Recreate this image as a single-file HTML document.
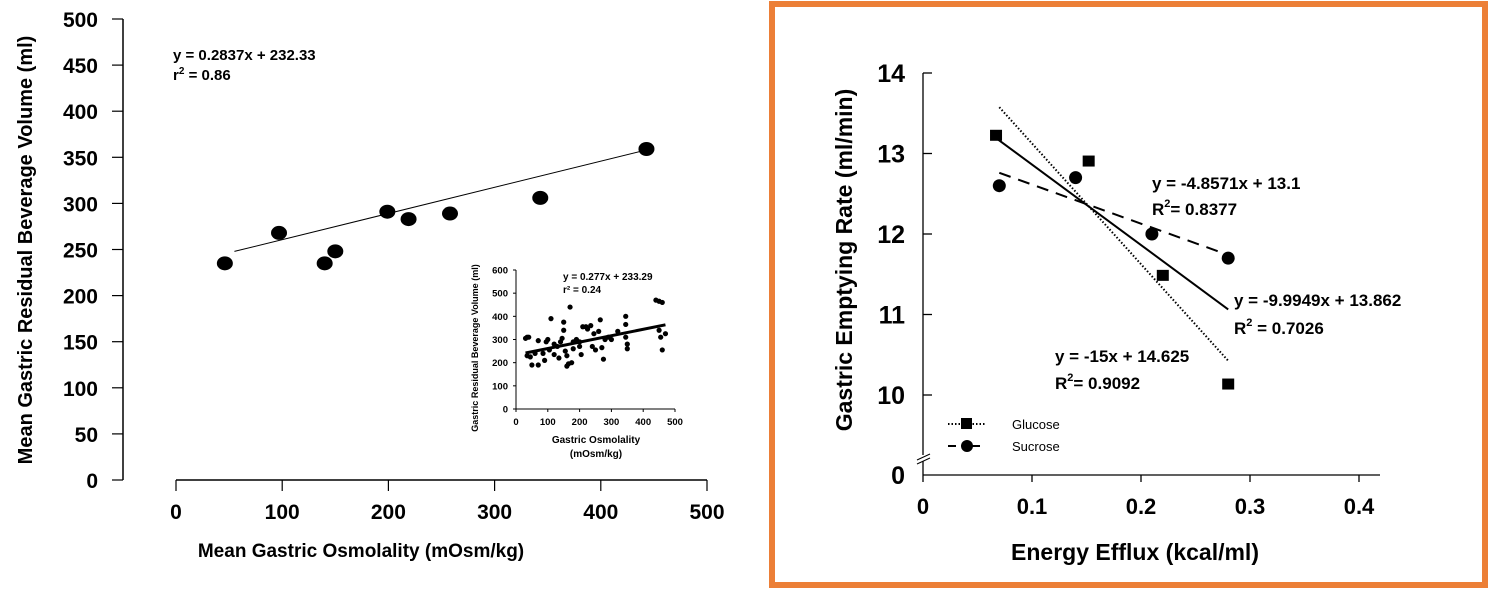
<!DOCTYPE html>
<html><head><meta charset="utf-8"><style>
html,body{margin:0;padding:0;background:#fff;}
svg{display:block;font-family:"Liberation Sans",Arial,sans-serif;}
text{font-weight:bold;fill:#000;}
</style></head><body>
<svg id="s" width="1490" height="590" viewBox="0 0 1490 590">
</svg>
<script>
const NS="http://www.w3.org/2000/svg";
const svg=document.getElementById('s');
function el(tag,attrs,parent){const e=document.createElementNS(NS,tag);for(const k in attrs)e.setAttribute(k,attrs[k]);(parent||svg).appendChild(e);return e;}
function txt(x,y,s,size,anchor,parent){const t=el('text',{x:x,y:y,'font-size':size,'text-anchor':anchor||'start'},parent);t.textContent=s;return t;}

// ---------- Left chart data ----------
const leftX=[46,97,140,150,199,219,258,343,443];
const leftY=[235,268,235,248,291,283,289,306,359];
const leftTicksY=[0,50,100,150,200,250,300,350,400,450,500];
const leftTicksX=[0,100,200,300,400,500];
const leftSlope=0.2837, leftIntercept=232.33;
// inset data
const insetX=[30,35,40,35,45,50,60,70,70,85,90,95,100,105,110,120,130,135,140,145,150,150,155,160,160,165,170,175,180,190,200,205,210,220,225,235,240,245,250,260,265,270,275,280,290,320,345,345,345,350,350,440,450,455,460,460,470,450,300,200,120,180];
const insetY=[305,310,310,230,225,190,240,190,295,240,210,290,300,255,390,235,270,220,290,305,340,375,250,230,185,195,440,200,260,300,290,235,355,355,345,360,270,325,255,335,385,265,215,300,310,335,400,365,310,280,260,470,465,310,460,255,325,340,300,270,280,290];
const insetTicksY=[0,100,200,300,400,500,600];
const insetTicksX=[0,100,200,300,400,500];
const insetSlope=0.277, insetIntercept=233.29;

// ---------- Right chart data ----------
const glucoseX=[0.067,0.152,0.22,0.28];
const glucoseY=[13.22,12.9,11.48,10.13];
const sucroseX=[0.07,0.14,0.21,0.28];
const sucroseY=[12.6,12.7,12.0,11.7];
const rightTicksY=[10,11,12,13,14];
const rightTicksX=[0,0.1,0.2,0.3,0.4];
const gSlope=-15, gInt=14.625;
const sSlope=-4.8571, sInt=13.1;
const cSlope=-9.9949, cInt=13.862;

// ---------- Left chart ----------
const lx=v=>176+v*(707-176)/500;
const ly=v=>480-v*(480-19)/500;
const L=el('g',{});


el('line',{x1:123,y1:ly(500),x2:123,y2:ly(0),stroke:'#000','stroke-width':1.5},L);
leftTicksY.forEach(v=>{el('line',{x1:112,y1:ly(v),x2:123,y2:ly(v),stroke:'#000','stroke-width':1.2},L);
 const t=txt(98,ly(v)+8,String(v),21,'end',L);
 
 });
el('line',{x1:lx(0),y1:480,x2:lx(500),y2:480,stroke:'#000','stroke-width':1.5},L);
leftTicksX.forEach(v=>{el('line',{x1:lx(v),y1:480,x2:lx(v),y2:491,stroke:'#000','stroke-width':1.2},L);
 const t=txt(lx(v),519,String(v),21,'middle',L);
 
 });
let t=txt(361,557,'Mean Gastric Osmolality (mOsm/kg)',19,'middle',L);

t=txt(0,0,'Mean Gastric Residual Beverage Volume (ml)',20,'middle',L);
t.setAttribute('transform','translate(32,250) rotate(-90)');

t=txt(173,60,'y = 0.2837x + 232.33',15,'start',L);

t=txt(173,80,'r',15,'start',L);
const sp=el('tspan',{'font-size':10,dy:-6},t);sp.textContent='2';
const sp2=el('tspan',{dy:6},t);sp2.textContent=' = 0.86';
const tl=el('line',{x1:lx(55),y1:ly(leftSlope*55+leftIntercept),x2:lx(445),y2:ly(leftSlope*445+leftIntercept),stroke:'#000','stroke-width':1},L);

leftX.forEach((x,i)=>{const c=el('ellipse',{cx:lx(x),cy:ly(leftY[i]),rx:8,ry:7,fill:'#000'},L);
 
 });

// ---------- Inset ----------
const ix=v=>516+v*(675-516)/500;
const iy=v=>409-v*(409-270)/600;
const I=el('g',{});


el('line',{x1:ix(0),y1:iy(0),x2:ix(0),y2:iy(600),stroke:'#000','stroke-width':1},I);
el('line',{x1:ix(0),y1:iy(0),x2:ix(500),y2:iy(0),stroke:'#000','stroke-width':1},I);
insetTicksY.forEach(v=>{el('line',{x1:ix(0)-3,y1:iy(v),x2:ix(0),y2:iy(v),stroke:'#000'},I);txt(508,iy(v)+3.5,String(v),9.5,'end',I);});
insetTicksX.forEach(v=>{el('line',{x1:ix(v),y1:iy(0),x2:ix(v),y2:iy(0)+3,stroke:'#000'},I);txt(ix(v),iy(0)+16,String(v),9.5,'middle',I);});
txt(596,443,'Gastric Osmolality',10,'middle',I);
txt(596,457,'(mOsm/kg)',10,'middle',I);
t=txt(0,0,'Gastric Residual Beverage  Volume  (ml)',9,'middle',I);
t.setAttribute('transform','translate(478,348) rotate(-90)');
txt(563,280,'y = 0.277x + 233.29',10,'start',I);
txt(563,293,'r² = 0.24',10,'start',I);
el('line',{x1:ix(30),y1:iy(insetSlope*30+insetIntercept),x2:ix(470),y2:iy(insetSlope*470+insetIntercept),stroke:'#000','stroke-width':3},I);
insetX.forEach((x,i)=>{const c=el('circle',{cx:ix(x),cy:iy(insetY[i]),r:2.6,fill:'#000'},I);
 
 });

// ---------- Right chart ----------
const rx=v=>923+v*(1359-923)/0.4;
const ry=v=>395-(v-10)*(395-73)/4;
const R=el('g',{});


const br=el('rect',{x:772,y:4,width:713,height:581,fill:'none',stroke:'#ec7f37','stroke-width':6},R);

el('line',{x1:923,y1:ry(14),x2:923,y2:455,stroke:'#000','stroke-width':1.3},R);
el('line',{x1:923,y1:461,x2:923,y2:475,stroke:'#000','stroke-width':1.3},R);
el('line',{x1:917,y1:460,x2:930,y2:454,stroke:'#000','stroke-width':1},R);
el('line',{x1:917,y1:464,x2:930,y2:458,stroke:'#000','stroke-width':1},R);
rightTicksY.forEach(v=>{el('line',{x1:923,y1:ry(v),x2:932,y2:ry(v),stroke:'#000','stroke-width':1.3},R);
 const t=txt(905,ry(v)+9,String(v),25,'end',R);
 
 });
txt(905,484,'0',25,'end',R);
el('line',{x1:923,y1:475,x2:1380,y2:475,stroke:'#000','stroke-width':1.3},R);
rightTicksX.forEach(v=>{el('line',{x1:rx(v),y1:475,x2:rx(v),y2:482,stroke:'#000','stroke-width':1.3},R);
 const t=txt(rx(v),514,v===0?'0':String(v),22,'middle',R);
 
 });
t=txt(1135,560,'Energy Efflux (kcal/ml)',23,'middle',R);

t=txt(0,0,'Gastric Emptying Rate  (ml/min)',23,'middle',R);
t.setAttribute('transform','translate(852,260) rotate(-90)');

const gl=el('line',{x1:rx(0.07),y1:ry(gSlope*0.07+gInt),x2:rx(0.28),y2:ry(gSlope*0.28+gInt),stroke:'#000','stroke-width':2,'stroke-dasharray':'1.5 2'},R);

const sl=el('line',{x1:rx(0.07),y1:ry(sSlope*0.07+sInt),x2:rx(0.28),y2:ry(sSlope*0.28+sInt),stroke:'#000','stroke-width':2,'stroke-dasharray':'12 8'},R);

const cl=el('line',{x1:rx(0.067),y1:ry(cSlope*0.067+cInt),x2:rx(0.28),y2:ry(cSlope*0.28+cInt),stroke:'#000','stroke-width':2},R);

glucoseX.forEach((x,i)=>{const r=el('rect',{x:rx(x)-6,y:ry(glucoseY[i])-6,width:12,height:11,fill:'#000'},R);
 
 });
sucroseX.forEach((x,i)=>{const c=el('circle',{cx:rx(x),cy:ry(sucroseY[i]),r:6.5,fill:'#000'},R);
 
 });
txt(1152,189,'y = -4.8571x + 13.1',17,'start',R);
t=txt(1152,215,'R',17,'start',R);let ts=el('tspan',{'font-size':11,dy:-8},t);ts.textContent='2';ts=el('tspan',{dy:8},t);ts.textContent='= 0.8377';
txt(1234,306,'y = -9.9949x + 13.862',17,'start',R);
t=txt(1234,334,'R',17,'start',R);ts=el('tspan',{'font-size':11,dy:-8},t);ts.textContent='2';ts=el('tspan',{dy:8},t);ts.textContent=' = 0.7026';
txt(1055,362,'y = -15x + 14.625',17,'start',R);
t=txt(1055,389,'R',17,'start',R);ts=el('tspan',{'font-size':11,dy:-8},t);ts.textContent='2';ts=el('tspan',{dy:8},t);ts.textContent='= 0.9092';
const lg=el('g',{},R);


el('line',{x1:948,y1:424,x2:986,y2:424,stroke:'#000','stroke-width':2,'stroke-dasharray':'1.5 2'},lg);
el('rect',{x:961,y:418,width:11,height:11,fill:'#000'},lg);
el('line',{x1:948,y1:446,x2:986,y2:446,stroke:'#000','stroke-width':2,'stroke-dasharray':'8 16'},lg);
el('circle',{cx:967,cy:446,r:6,fill:'#000'},lg);
const g1=txt(1012,429,'Glucose',13,'start',lg);g1.style.fontWeight='normal';
const g2=txt(1012,451,'Sucrose',13,'start',lg);g2.style.fontWeight='normal';
</script>
</body></html>
